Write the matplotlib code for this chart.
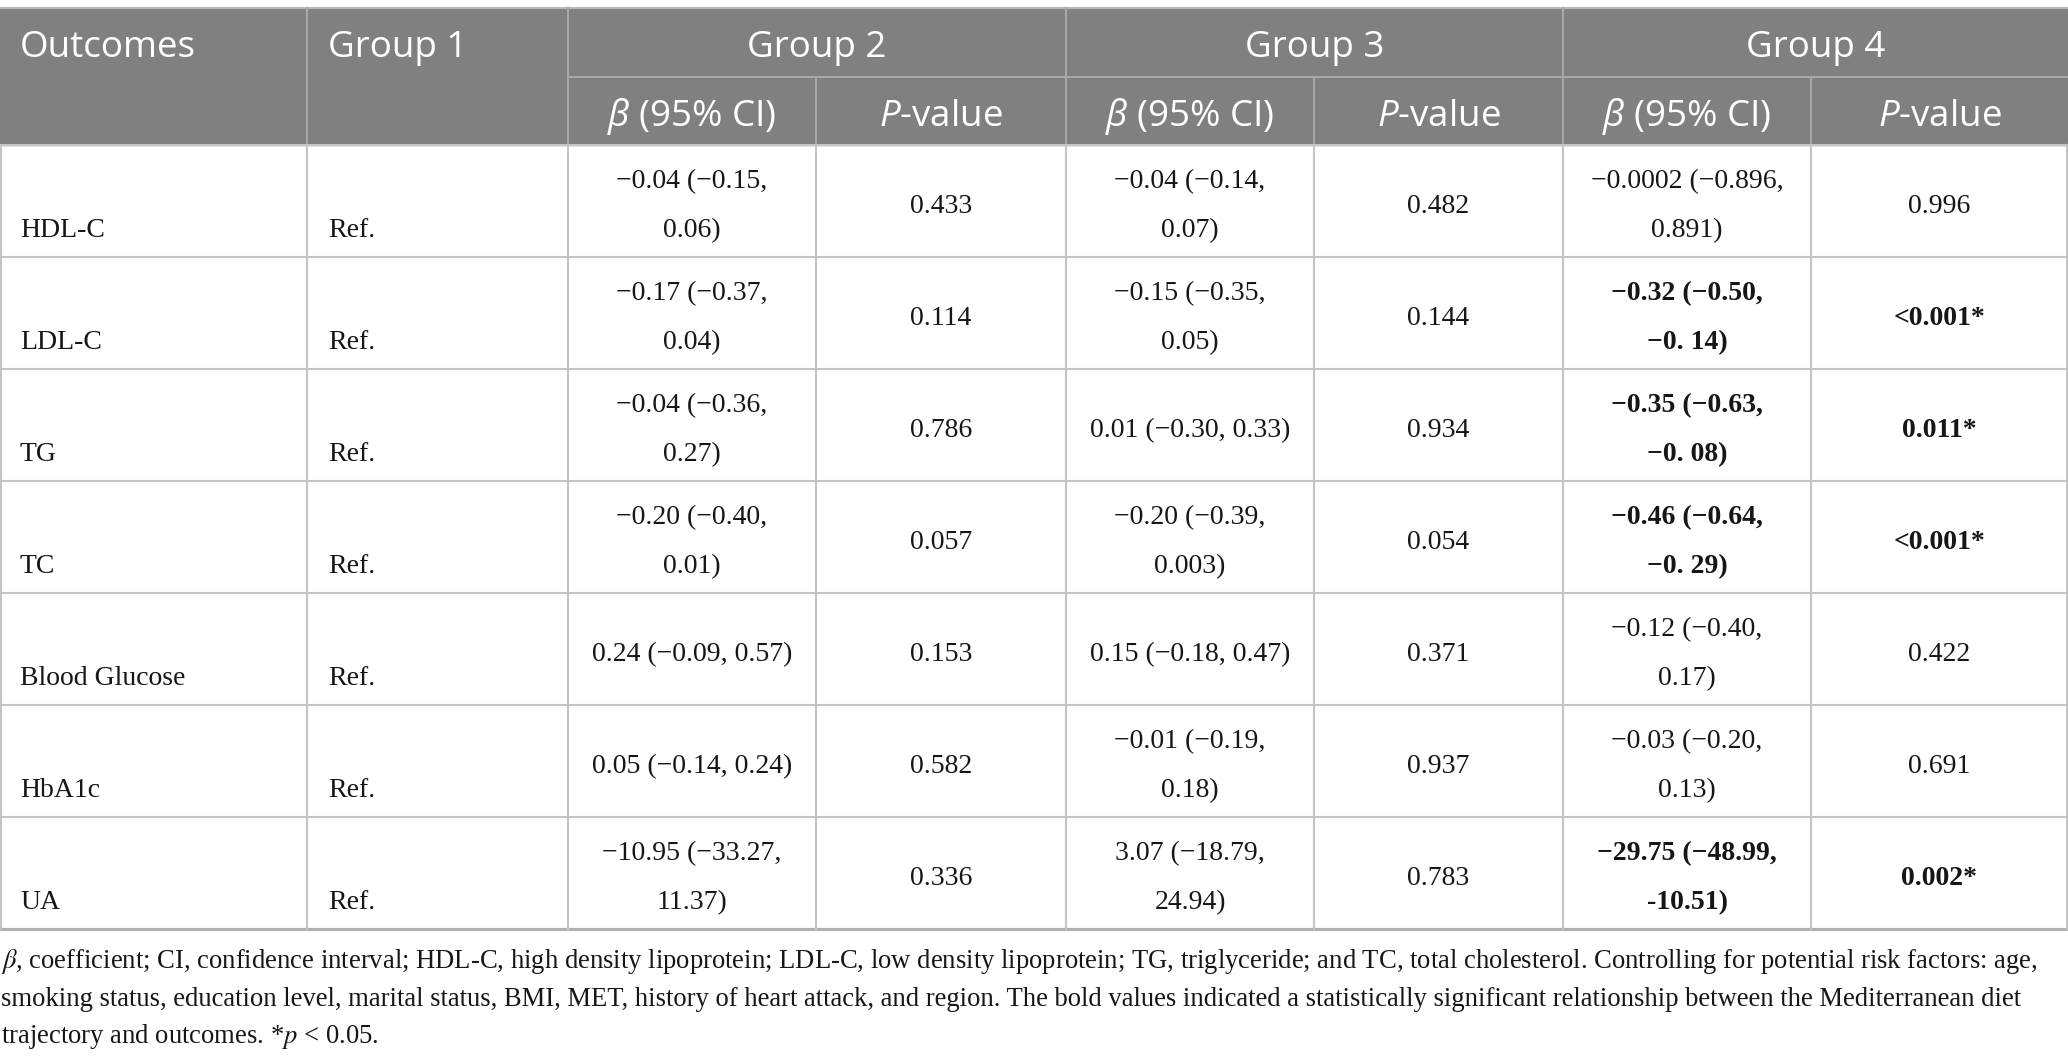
import matplotlib
matplotlib.use("Agg")
import matplotlib.pyplot as plt
from matplotlib.patches import Rectangle

# mathtext in the header uses Open Sans, footnote math uses stix
plt.rcParams["mathtext.fontset"] = "custom"
plt.rcParams["mathtext.rm"] = "Open Sans"
plt.rcParams["mathtext.it"] = "Open Sans:italic"
plt.rcParams["mathtext.bf"] = "Open Sans:bold"

# table data
outcomes = ["HDL-C", "LDL-C", "TG", "TC", "Blood Glucose", "HbA1c", "UA"]
group1 = ["Ref.", "Ref.", "Ref.", "Ref.", "Ref.", "Ref.", "Ref."]
g2_beta = ["−0.04 (−0.15,\n0.06)", "−0.17 (−0.37,\n0.04)", "−0.04 (−0.36,\n0.27)",
           "−0.20 (−0.40,\n0.01)", "0.24 (−0.09, 0.57)", "0.05 (−0.14, 0.24)",
           "−10.95 (−33.27,\n11.37)"]
g2_p = ["0.433", "0.114", "0.786", "0.057", "0.153", "0.582", "0.336"]
g3_beta = ["−0.04 (−0.14,\n0.07)", "−0.15 (−0.35,\n0.05)", "0.01 (−0.30, 0.33)",
           "−0.20 (−0.39,\n0.003)", "0.15 (−0.18, 0.47)", "−0.01 (−0.19,\n0.18)",
           "3.07 (−18.79,\n24.94)"]
g3_p = ["0.482", "0.144", "0.934", "0.054", "0.371", "0.937", "0.783"]
g4_beta = ["−0.0002 (−0.896,\n0.891)", "−0.32 (−0.50,\n−0. 14)", "−0.35 (−0.63,\n−0. 08)",
           "−0.46 (−0.64,\n−0. 29)", "−0.12 (−0.40,\n0.17)", "−0.03 (−0.20,\n0.13)",
           "−29.75 (−48.99,\n-10.51)"]
g4_p = ["0.996", "<0.001*", "0.011*", "<0.001*", "0.422", "0.691", "0.002*"]
g4_bold = [False, True, True, True, False, False, True]

groups = ["Group 2", "Group 3", "Group 4"]
sub_headers = [r"$\beta$ (95% CI)", r"$P$-value"]

footnote = [
    r"$\beta$, coefficient; CI, confidence interval; HDL-C, high density lipoprotein; LDL-C, low density lipoprotein; TG, triglyceride; and TC, total cholesterol. Controlling for potential risk factors: age,",
    "smoking status, education level, marital status, BMI, MET, history of heart attack, and region. The bold values indicated a statistically significant relationship between the Mediterranean diet",
    r"trajectory and outcomes. *$p$ < 0.05.",
]

# layout (pixels)
W, H = 2068, 1063
col_x = [0, 307, 568, 816, 1066, 1314, 1563, 1811, 2068]
top, mid, head_bot = 8, 77, 145
row_h = 112
n_rows = len(outcomes)
bottom = head_bot + n_rows * row_h

head_bg = "#7f807f"
grid = "#c4c4c4"
head_font = "Open Sans"
body_font = "Liberation Serif"
head_size = 26.5
body_size = 20
foot_size = 19.15
ink = "#161616"

fig = plt.figure(figsize=(W / 100, H / 100), dpi=100)
ax = fig.add_axes([0, 0, 1, 1])
ax.set_xlim(0, W)
ax.set_ylim(H, 0)
ax.axis("off")

# header background
ax.add_patch(Rectangle((0, top), W, head_bot - top, color=head_bg, zorder=0))
ax.plot([0, W], [top, top], color="#b8b8b8", lw=1.5)

# header separators
for x in [col_x[1], col_x[2], col_x[4], col_x[6]]:
    ax.plot([x, x], [top, head_bot], color="#a8a8a8", lw=1.5)
for x in [col_x[3], col_x[5], col_x[7]]:
    ax.plot([x, x], [mid, head_bot], color="#a8a8a8", lw=1.5)
ax.plot([col_x[2], W], [mid, mid], color="#a8a8a8", lw=1.5)

# header text
ax.text(20, 57, "Outcomes", family=head_font, size=head_size, color="white", va="baseline")
ax.text(328, 57, "Group 1", family=head_font, size=head_size, color="white", va="baseline")
for i, g in enumerate(groups):
    cx = (col_x[2 + 2 * i] + col_x[4 + 2 * i]) / 2
    ax.text(cx, 57, g, family=head_font, size=head_size, color="white",
            ha="center", va="baseline")
    for j, s in enumerate(sub_headers):
        c = 2 + 2 * i + j
        ax.text((col_x[c] + col_x[c + 1]) / 2, 126, s, family=head_font, size=head_size,
                color="white", ha="center", va="baseline")

# body grid
for k in range(n_rows + 1):
    y = head_bot + k * row_h
    ax.plot([0, W], [y, y], color=grid, lw=1.5)
ax.plot([0, W], [bottom, bottom], color="#b0b0b0", lw=2.2)
for x in col_x[1:-1]:
    ax.plot([x, x], [head_bot, bottom], color=grid, lw=1.5)
ax.plot([1, 1], [head_bot, bottom], color=grid, lw=1.5)
ax.plot([W - 1, W - 1], [head_bot, bottom], color=grid, lw=1.5)


def cell(text, c, r, bold=False):
    cx = (col_x[c] + col_x[c + 1]) / 2
    y0 = head_bot + r * row_h
    lines = text.split("\n")
    ys = [y0 + 43, y0 + 92] if len(lines) == 2 else [y0 + 68]
    for line, y in zip(lines, ys):
        ax.text(cx, y, line, family=body_font, size=body_size, ha="center",
                va="baseline", color=ink, weight="bold" if bold else "normal")


for r in range(n_rows):
    y0 = head_bot + r * row_h
    ax.text(20, y0 + 92, outcomes[r], family=body_font, size=body_size,
            va="baseline", color=ink)
    ax.text(328, y0 + 92, group1[r], family=body_font, size=body_size,
            va="baseline", color=ink)
    cell(g2_beta[r], 2, r)
    cell(g2_p[r], 3, r)
    cell(g3_beta[r], 4, r)
    cell(g3_p[r], 5, r)
    cell(g4_beta[r], 6, r, g4_bold[r])
    cell(g4_p[r], 7, r, g4_bold[r])

# footnote
for i, line in enumerate(footnote):
    ax.text(1, 968 + i * 37.5, line, family=body_font, size=foot_size,
            va="baseline", color=ink, math_fontfamily="stix")

fig.savefig("out.png", dpi=100)
